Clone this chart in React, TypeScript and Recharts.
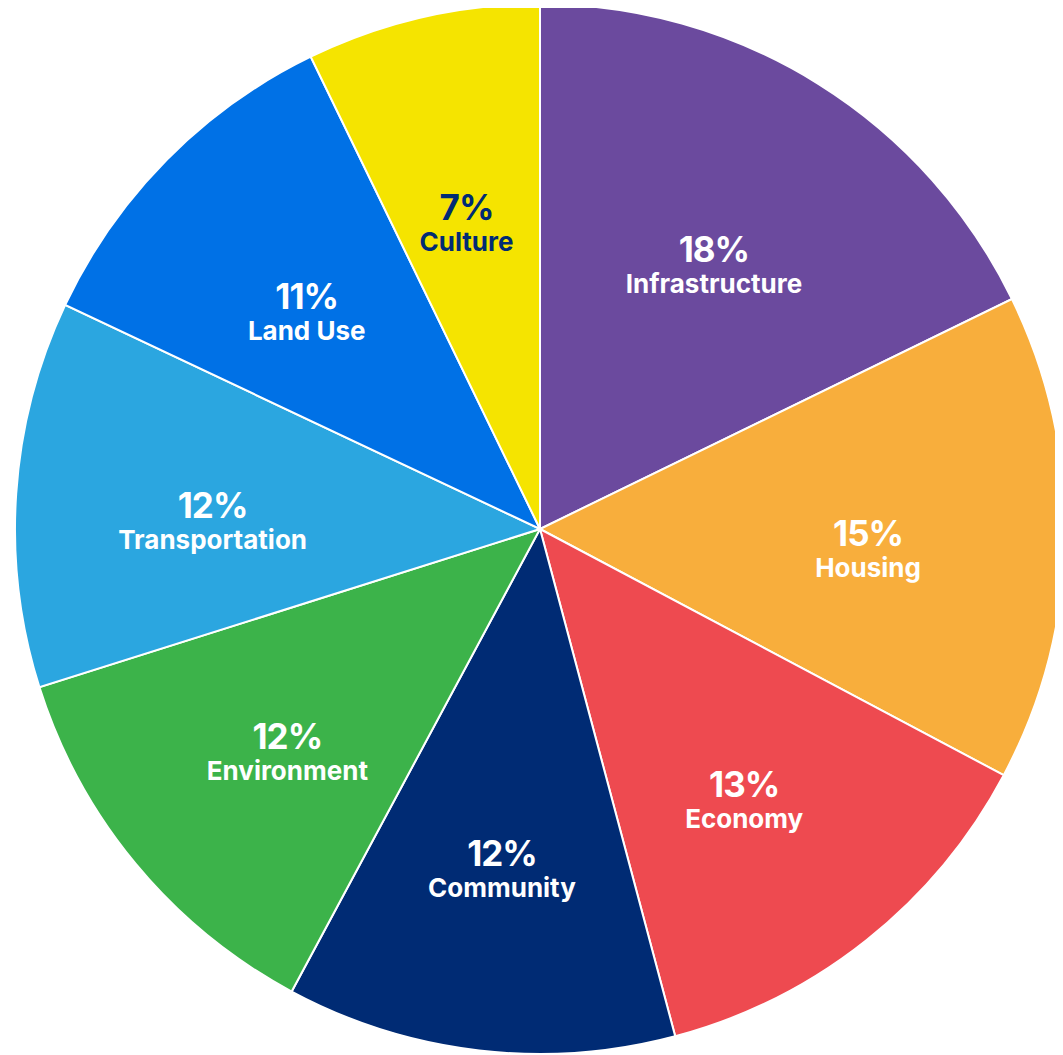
import React from "react";
import { PieChart, Pie, Cell } from "recharts";

const categories = ["Infrastructure", "Housing", "Economy", "Community", "Environment", "Transportation", "Land Use", "Culture"];
const shares = [17.8, 15.0, 13.1, 12.0, 12.3, 11.9, 10.8, 7.2];
const colors = ["#6B4A9E", "#F8AE3C", "#EE4A50", "#002B74", "#3CB34A", "#2BA6E0", "#0071E6", "#F5E400"];
const labelColors = ["#FFFFFF", "#FFFFFF", "#FFFFFF", "#FFFFFF", "#FFFFFF", "#FFFFFF", "#FFFFFF", "#002B74"];

const data = categories.map((name, i) => ({ name, value: shares[i] }));
const total = shares.reduce((a, b) => a + b, 0);

const RAD = Math.PI / 180;

const renderLabel = (props: any) => {
  const { cx, cy, midAngle, outerRadius, index, value } = props;
  const r = outerRadius * 0.625;
  const x = cx + r * Math.cos(-midAngle * RAD);
  const y = cy + r * Math.sin(-midAngle * RAD) + 15;
  const pct = Math.round((value / total) * 100);
  const fill = labelColors[index];
  return (
    <g>
      <text x={x} y={y - 4} textAnchor="middle" fill={fill}
        style={{ fontFamily: "Inter, 'Open Sans', sans-serif", fontWeight: 700, fontSize: 35, letterSpacing: -1 }}>
        {pct}%
      </text>
      <text x={x} y={y + 27} textAnchor="middle" fill={fill}
        style={{ fontFamily: "Inter, 'Open Sans', sans-serif", fontWeight: 700, fontSize: 26 }}>
        {categories[index]}
      </text>
    </g>
  );
};

export default function App() {
  return (
    <div style={{ width: 1055, height: 1047 }}>
      <PieChart width={1055} height={1047} margin={{ top: 0, right: 0, bottom: 0, left: 0 }}>
        <Pie
          data={data}
          dataKey="value"
          nameKey="name"
          cx={532}
          cy={521}
          outerRadius={525}
          startAngle={90}
          endAngle={-270}
          stroke="#FFFFFF"
          strokeWidth={2}
          label={renderLabel}
          labelLine={false}
          isAnimationActive={false}
        >
          {data.map((d, i) => (
            <Cell key={d.name} fill={colors[i]} />
          ))}
        </Pie>
      </PieChart>
    </div>
  );
}
